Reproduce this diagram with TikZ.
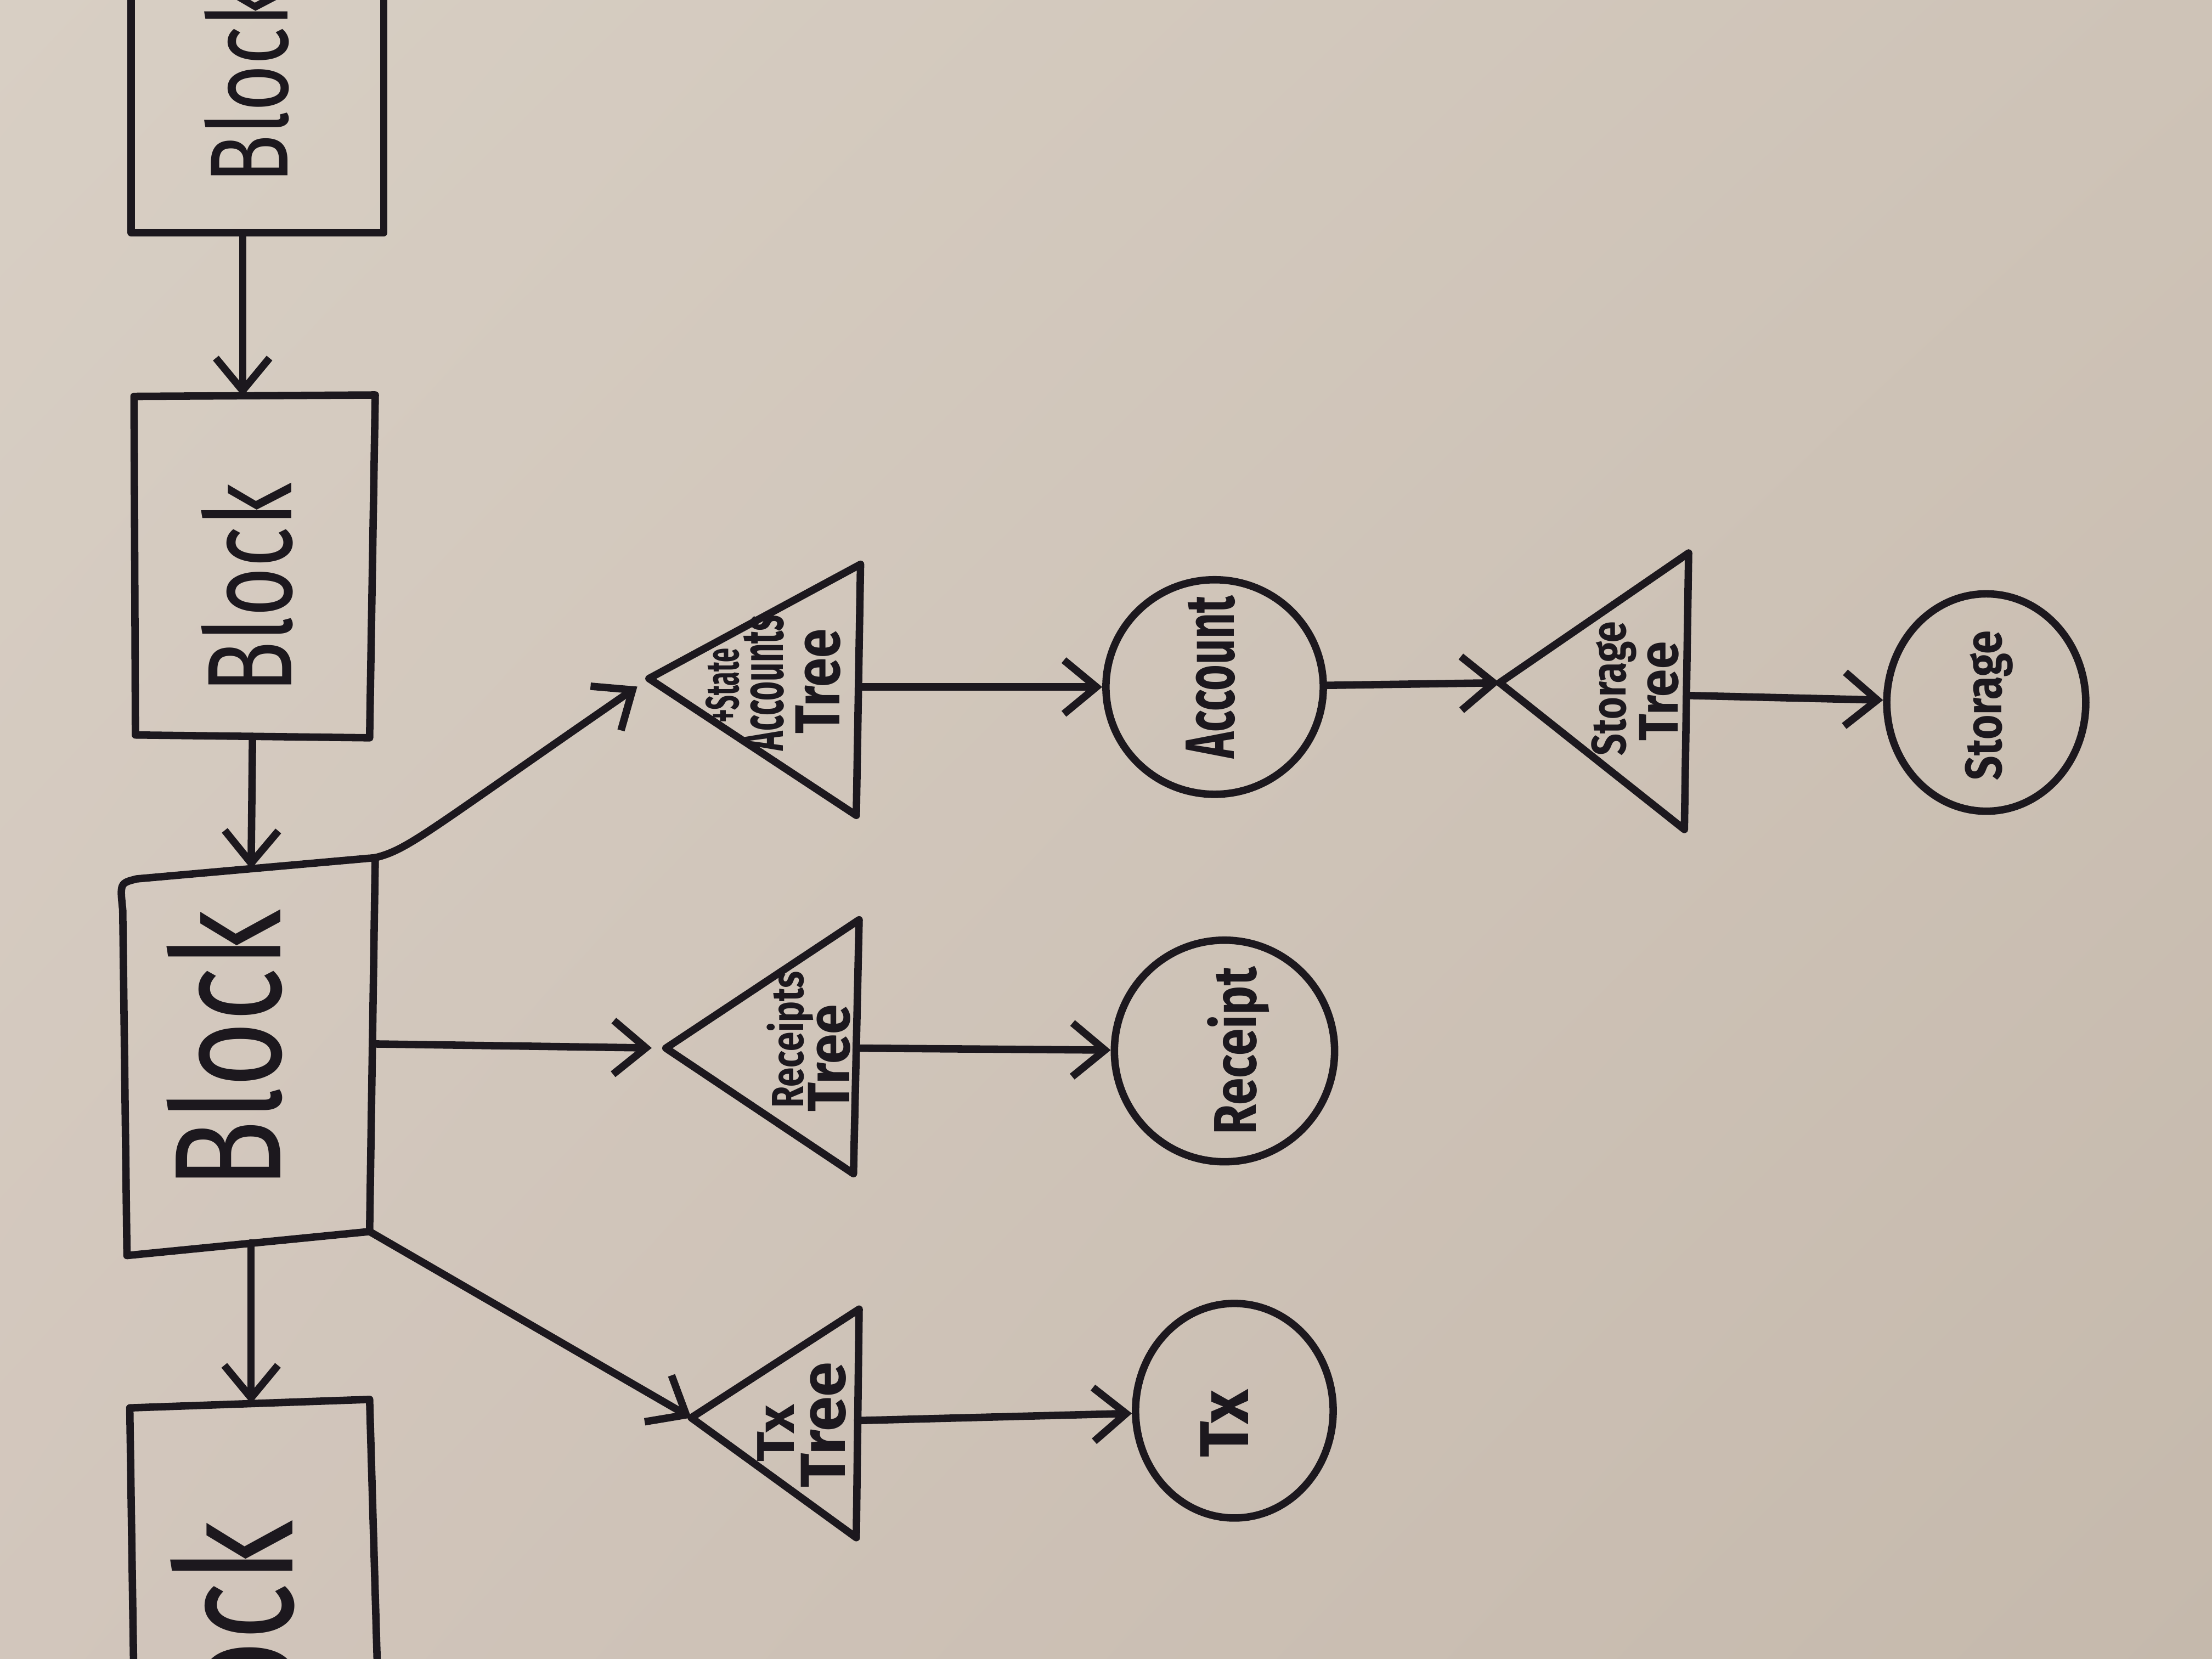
\documentclass[tikz,border=0pt]{standalone}
\usepackage{fontspec}
\setmainfont{Fira Sans}
\usepackage{graphicx}
\usetikzlibrary{arrows.meta,shapes.geometric,shadings}
\definecolor{ink}{RGB}{28,24,30}
\definecolor{paperUL}{RGB}{216,207,196}
\definecolor{paperUR}{RGB}{206,195,183}
\definecolor{paperLL}{RGB}{210,198,188}
\definecolor{paperLR}{RGB}{197,185,172}
\newcommand{\hwtext}[3]{\resizebox*{#1}{#2}{\bfseries #3}}
\newcommand{\hwbig}[3]{\resizebox*{#1}{#2}{#3}}
\begin{document}
\begin{tikzpicture}[x=0.01cm,y=-0.01cm,
  inkline/.style={draw=ink,line width=1.5pt,line cap=round,line join=round},
  arr/.style={inkline,-{Straight Barb[length=2.3mm,width=3.8mm]}},
  lbl/.style={inner sep=0pt,outer sep=0pt,rotate=90,text=ink},
  leaf/.style={draw=ink,line width=1.5pt,ellipse,inner sep=0pt}]
\useasboundingbox (0,0) rectangle (1568,1176);
\clip (0,0) rectangle (1568,1176);
\shade[upper left=paperUL,upper right=paperUR,lower left=paperLL,lower right=paperLR] (0,0) rectangle (1568,1176);

% ---- blocks ----
\draw[inkline] (93,-20) -- (93,165) -- (272,165) -- (272,-20);
\coordinate (b1s) at (172,165);
\node[lbl] (b1t) at (175,60) {\hwbig{1.40cm}{0.60cm}{Block}};

\draw[inkline] (95,281) -- (266,280) -- (262,523) -- (96,521) -- cycle;
\coordinate (b2n) at (172,281);
\coordinate (b2s) at (179,522);
\node[lbl] (b2t) at (175,417) {\hwbig{1.49cm}{0.65cm}{Block}};

\draw[inkline] (97,623) -- (266,608) -- (262,873) -- (90,890) -- (87,645) .. controls (85,626) .. (97,623) -- cycle;
\coordinate (b3n) at (178,616);
\coordinate (b3s) at (178,881);
\coordinate (b3ne) at (266,608);
\coordinate (b3e) at (264,740);
\coordinate (b3se) at (262,873);
\node[lbl] (b3t) at (159,744) {\hwbig{1.98cm}{0.82cm}{Block}};

\draw[inkline] (95,1200) -- (92,998) -- (262,992) -- (268,1200);
\coordinate (b4n) at (178,995);
\node[lbl] (b4t) at (165,1184) {\hwbig{2.12cm}{0.88cm}{Block}};

% ---- trees ----
\coordinate (stA) at (460,481); \coordinate (stT) at (610,400); \coordinate (stB) at (607,578); \coordinate (stR) at (609,487);
\draw[inkline] (stA) -- (stT) -- (stB) -- cycle;
\node[lbl] (st1) at (512,486) {\hwtext{0.53cm}{0.24cm}{+State}};
\node[lbl] (st2) at (541,484) {\hwtext{0.96cm}{0.30cm}{Accounts}};
\node[lbl] (st3) at (580,483) {\hwtext{0.74cm}{0.32cm}{Tree}};

\coordinate (rtA) at (472,743); \coordinate (rtT) at (609,652); \coordinate (rtB) at (605,832); \coordinate (rtR) at (608,743);
\draw[inkline] (rtA) -- (rtT) -- (rtB) -- cycle;
\node[lbl] (rt1) at (560,737) {\hwtext{0.97cm}{0.33cm}{Receipts}};
\node[lbl] (rt2) at (588,750) {\hwtext{0.76cm}{0.30cm}{Tree}};

\coordinate (ttA) at (490,1005); \coordinate (ttT) at (609,928); \coordinate (ttB) at (607,1090); \coordinate (ttR) at (608,1007);
\draw[inkline] (ttA) -- (ttT) -- (ttB) -- cycle;
\node[lbl] (tt1) at (550,1016) {\hwtext{0.40cm}{0.26cm}{Tx}};
\node[lbl] (tt2) at (584,1010) {\hwtext{0.89cm}{0.32cm}{Tree}};

\coordinate (sgA) at (1063,484); \coordinate (sgT) at (1197,392); \coordinate (sgB) at (1194,588); \coordinate (sgR) at (1196,493);
\draw[inkline] (sgA) -- (sgT) -- (sgB) -- cycle;
\node[lbl] (sg1) at (1144,488) {\hwtext{0.95cm}{0.32cm}{Storage}};
\node[lbl] (sg2) at (1176,490) {\hwtext{0.70cm}{0.28cm}{Tree}};

% ---- leaves ----
\node[leaf,minimum width=1.54cm,minimum height=1.52cm] (acc) at (861,487) {};
\node[lbl] (acct) at (858,480) {\hwtext{1.15cm}{0.35cm}{Account}};
\node[leaf,minimum width=1.56cm,minimum height=1.57cm] (rc) at (868,745) {};
\node[lbl] (rct) at (878,745) {\hwtext{1.19cm}{0.44cm}{Receipt}};
\node[leaf,minimum width=1.40cm,minimum height=1.52cm] (txc) at (875,1000) {};
\node[lbl] (txct) at (868,1009) {\hwtext{0.48cm}{0.34cm}{Tx}};
\node[leaf,minimum width=1.41cm,minimum height=1.54cm] (sgc) at (1408,498) {};
\node[lbl] (sgct) at (1410,500) {\hwtext{1.06cm}{0.34cm}{Storage}};

% ---- connectors ----
\draw[arr] (b1s) -- (b2n);
\draw[arr] (b2s) -- (b3n);
\draw[arr] (b3s) -- (b4n);
\draw[arr,shorten >=1mm] (b3ne) .. controls (290,602) and (302,590) .. (stA);
\draw[arr,shorten >=1mm] (b3e) -- (rtA);
\draw[arr] (b3se) -- (ttA);
\draw[arr] (stR) -- (acc);
\draw[arr] (rtR) -- (rc);
\draw[arr] (ttR) -- (txc);
\draw[arr] (acc) -- (sgA);
\draw[arr] (sgR) -- (sgc);
\end{tikzpicture}
\end{document}
